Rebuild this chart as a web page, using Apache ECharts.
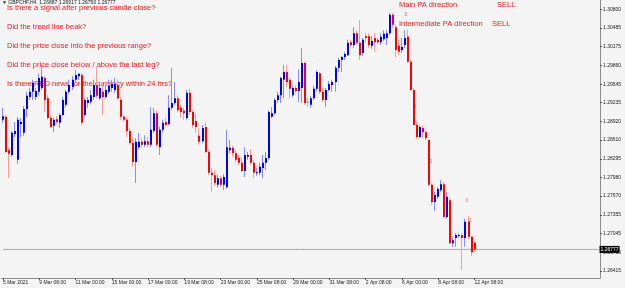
<!DOCTYPE html>
<html>
<head>
<meta charset="utf-8">
<script src="https://cdn.jsdelivr.net/npm/echarts@6/dist/echarts.min.js"></script>
<style>
html, body { margin: 0; padding: 0; background: #f4f4f4; }
#chart { width: 625px; height: 288px; }
</style>
</head>
<body>
<div id="chart"></div>
<script>
// GBPCHF H4, 5 Mar - 12 Apr 2021
var timeLabels = ['5 Mar 2021', '9 Mar 08:00', '11 Mar 00:00', '15 Mar 00:00', '17 Mar 00:00', '19 Mar 08:00',
    '23 Mar 00:00', '25 Mar 08:00', '29 Mar 00:00', '31 Mar 08:00', '2 Apr 08:00', '6 Apr 00:00', '8 Apr 08:00', '12 Apr 08:00'];
var priceTicks = [1.30800, 1.30485, 1.30175, 1.29860, 1.29545, 1.29235, 1.28920, 1.28610,
    1.28295, 1.27980, 1.27670, 1.27355, 1.27045, 1.26730, 1.26415];

var opens = [
    1.2895,1.2900,1.2844,1.2836,1.2871,1.2828,1.2888,1.2873,1.2913,1.2933,
    1.2942,1.2933,1.2942,1.2948,1.2965,1.2931,1.2898,1.2885,1.2896,1.2890,
    1.2903,1.2920,1.2942,1.2950,1.2962,1.2968,1.2970,1.2903,1.2923,1.2925,
    1.2933,1.2953,1.2931,1.2942,1.2933,1.2942,1.2948,1.2945,1.2953,1.2928,
    1.2900,1.2895,1.2876,1.2856,1.2824,1.2849,1.2858,1.2853,1.2859,1.2853,
    1.2876,1.2906,1.2849,1.2878,1.2891,1.2888,1.2915,1.2923,1.2931,1.2915,
    1.2910,1.2898,1.2940,1.2908,1.2893,1.2868,1.2859,1.2883,1.2841,1.2806,
    1.2802,1.2786,1.2797,1.2786,1.2782,1.2844,1.2848,1.2839,1.2831,1.2823,
    1.2809,1.2833,1.2836,1.2823,1.2806,1.2806,1.2814,1.2823,1.2831,1.2900,
    1.2906,1.2928,1.2936,1.2962,1.2975,1.2962,1.2936,1.2948,1.2943,1.2948,
    1.2990,1.2925,1.2920,1.2931,1.2947,1.2973,1.2942,1.2928,1.2945,1.2953,
    1.2958,1.2982,1.2995,1.3000,1.3003,1.3025,1.3020,1.3040,1.3024,1.3007,
    1.3035,1.3035,1.3019,1.3032,1.3029,1.3025,1.3030,1.3032,1.3040,1.3071,
    1.3050,1.3019,1.3012,1.3020,1.3034,1.2992,1.2945,1.2886,1.2866,1.2881,
    1.2874,1.2861,1.2786,1.2757,1.2766,1.2777,1.2787,1.2732,1.2760,1.2688,
    1.2697,1.2700,1.2702,1.2697,1.2724,1.2699,1.26887
];
var highs = [
    1.2915,1.2903,1.2848,1.2876,1.2891,1.2900,1.2898,1.2918,1.2942,1.2948,
    1.2962,1.2948,1.2972,1.2983,1.2968,1.2936,1.2901,1.2898,1.2901,1.2906,
    1.2933,1.2945,1.2962,1.2968,1.2978,1.2973,1.2973,1.2931,1.2933,1.2945,
    1.2962,1.2983,1.2953,1.2955,1.2953,1.2962,1.2962,1.2965,1.2962,1.2933,
    1.2903,1.2898,1.2881,1.2864,1.2864,1.2873,1.2864,1.2869,1.2866,1.2916,
    1.2915,1.2911,1.2883,1.2895,1.2898,1.2936,1.2982,1.2958,1.2936,1.2920,
    1.2915,1.2945,1.2947,1.2911,1.2906,1.2881,1.2886,1.2891,1.2844,1.2814,
    1.2811,1.2802,1.2801,1.2804,1.2878,1.2861,1.2851,1.2844,1.2836,1.2831,
    1.2849,1.2841,1.2846,1.2828,1.2814,1.2823,1.2836,1.2841,1.2911,1.2916,
    1.2931,1.2942,1.2967,1.2987,1.2987,1.2965,1.2952,1.2952,1.2980,1.3015,
    1.2992,1.2933,1.2935,1.2952,1.2978,1.2975,1.2948,1.2948,1.2960,1.2962,
    1.2985,1.2998,1.3002,1.3009,1.3029,1.3029,1.3050,1.3045,1.3062,1.3032,
    1.3040,1.3040,1.3035,1.3040,1.3032,1.3040,1.3045,1.3045,1.3074,1.3074,
    1.3054,1.3029,1.3032,1.3045,1.3045,1.2995,1.2948,1.2891,1.2886,1.2885,
    1.2878,1.2861,1.2789,1.2774,1.2782,1.2794,1.2791,1.2774,1.2764,1.2699,
    1.2705,1.2705,1.2705,1.2729,1.2734,1.2700,1.26917
];
var lows = [
    1.2890,1.2839,1.2797,1.2833,1.2866,1.2821,1.2866,1.2868,1.2900,1.2928,
    1.2928,1.2928,1.2936,1.2945,1.2908,1.2895,1.2881,1.2874,1.2888,1.2881,
    1.2901,1.2916,1.2938,1.2945,1.2958,1.2962,1.2886,1.2900,1.2915,1.2921,
    1.2928,1.2931,1.2928,1.2903,1.2930,1.2938,1.2942,1.2940,1.2928,1.2895,
    1.2891,1.2866,1.2853,1.2816,1.2789,1.2846,1.2848,1.2849,1.2849,1.2849,
    1.2873,1.2849,1.2836,1.2874,1.2883,1.2885,1.2911,1.2920,1.2908,1.2898,
    1.2895,1.2895,1.2903,1.2881,1.2873,1.2853,1.2856,1.2839,1.2802,1.2774,
    1.2784,1.2781,1.2782,1.2777,1.2779,1.2839,1.2833,1.2823,1.2819,1.2807,
    1.2799,1.2828,1.2819,1.2797,1.2801,1.2802,1.2797,1.2811,1.2828,1.2898,
    1.2903,1.2923,1.2923,1.2931,1.2950,1.2931,1.2933,1.2940,1.2925,1.2923,
    1.2920,1.2916,1.2915,1.2928,1.2943,1.2938,1.2925,1.2916,1.2942,1.2942,
    1.2942,1.2975,1.2975,1.2995,1.3002,1.3017,1.3015,1.3020,1.2995,1.3002,
    1.3025,1.3015,1.3014,1.3009,1.3022,1.3020,1.3027,1.3020,1.3037,1.3049,
    1.3000,1.3003,1.3007,1.3015,1.2990,1.2943,1.2885,1.2863,1.2864,1.2864,
    1.2861,1.2784,1.2752,1.2742,1.2762,1.2774,1.2730,1.2729,1.2687,1.2682,
    1.2682,1.2697,1.2643,1.2682,1.2695,1.2667,1.26750
];
var closes = [
    1.2901,1.2841,1.2838,1.2873,1.2876,1.2895,1.2891,1.2913,1.2935,1.2942,
    1.2957,1.2943,1.2965,1.2967,1.2928,1.2898,1.2883,1.2895,1.2891,1.2903,
    1.2928,1.2942,1.2953,1.2962,1.2970,1.2972,1.2890,1.2928,1.2928,1.2936,
    1.2953,1.2935,1.2948,1.2933,1.2945,1.2952,1.2955,1.2955,1.2931,1.2900,
    1.2895,1.2876,1.2856,1.2824,1.2858,1.2858,1.2853,1.2859,1.2853,1.2878,
    1.2906,1.2853,1.2878,1.2890,1.2886,1.2915,1.2923,1.2931,1.2911,1.2908,
    1.2906,1.2940,1.2908,1.2886,1.2883,1.2858,1.2881,1.2841,1.2806,1.2802,
    1.2789,1.2797,1.2786,1.2799,1.2849,1.2848,1.2839,1.2828,1.2823,1.2809,
    1.2836,1.2836,1.2823,1.2806,1.2807,1.2816,1.2823,1.2831,1.2908,1.2906,
    1.2928,1.2936,1.2965,1.2975,1.2958,1.2947,1.2948,1.2943,1.2958,1.2990,
    1.2923,1.2925,1.2931,1.2947,1.2975,1.2942,1.2928,1.2945,1.2955,1.2958,
    1.2982,1.2995,1.3000,1.3005,1.3024,1.3020,1.3040,1.3024,1.3003,1.3029,
    1.3032,1.3020,1.3027,1.3025,1.3025,1.3034,1.3039,1.3040,1.3071,1.3054,
    1.3012,1.3009,1.3017,1.3032,1.2992,1.2945,1.2886,1.2866,1.2883,1.2874,
    1.2864,1.2786,1.2757,1.2769,1.2779,1.2787,1.2732,1.2766,1.2688,1.2693,
    1.2702,1.2702,1.2697,1.2724,1.2699,1.2673,1.26777
];
var lastPrice = 1.26777;

var slotCount = 198;   // chart is shifted left, empty slots on the right
var categories = [];
for (var i = 0; i < slotCount; i++) {
    categories.push(String(i));
}
var candleData = opens.map(function (o, i) {
    return [i, o, closes[i], lows[i], highs[i]];
});
// bid line across the whole chart
var bidLine = [[0, lastPrice], [slotCount - 1, lastPrice]];

function showTimeLabel(idx) {
    return idx % 12 === 0 && idx / 12 < timeLabels.length;
}

function renderCandle(params, api) {
    var idx = api.value(0);
    var o = api.value(1), c = api.value(2), lo = api.value(3), hi = api.value(4);
    var top = api.coord([idx, hi]);
    var bot = api.coord([idx, lo]);
    var pO = api.coord([idx, o]);
    var pC = api.coord([idx, c]);
    var x = Math.round(top[0]);
    var body, wick;
    if (c === o) { body = '#22dd22'; wick = '#77ee77'; }
    else if (c > o) { body = '#0000ff'; wick = '#8a8aff'; }
    else { body = '#ff0000'; wick = '#ff9a9a'; }
    var y1 = Math.min(pO[1], pC[1]);
    var h = Math.max(Math.abs(pO[1] - pC[1]), 1);
    return {
        type: 'group',
        children: [
            { type: 'line', shape: { x1: x - 0.5, y1: top[1], x2: x - 0.5, y2: bot[1] }, style: { stroke: wick, lineWidth: 1 } },
            { type: 'rect', shape: { x: x - 1, y: y1, width: 2, height: h }, style: { fill: body } }
        ]
    };
}

var red = '#f01c1c';
var questions = [
    'Is there a signal after previous candle close?',
    'Did the trend line beak?',
    'Did the price close into the previous range?',
    'Did the price close below / above the last leg?',
    'Is there RED news for the currency within 24 hrs?'
];
var graphics = [
    { type: 'text', left: 2, top: 0, z: 5, style: { text: '\u25BC GBPCHF,H4  1.26887 1.26917 1.26750 1.26777', fontSize: 5, fill: '#222', fontFamily: 'Liberation Sans' } },
    { type: 'text', x: 399, y: 1, style: { text: 'Main PA direction', fontSize: 7.5, fill: red, fontFamily: 'Liberation Sans' } },
    { type: 'text', x: 497, y: 1, style: { text: 'SELL', fontSize: 7.5, fill: red, fontFamily: 'Liberation Sans' } },
    { type: 'text', x: 399, y: 20, style: { text: 'Intermediate PA direction', fontSize: 7.5, fill: red, fontFamily: 'Liberation Sans' } },
    { type: 'text', x: 492, y: 20, style: { text: 'SELL', fontSize: 7.5, fill: red, fontFamily: 'Liberation Sans' } }
];
questions.forEach(function (q, k) {
    graphics.push({ type: 'text', x: 7, y: 4 + k * 19, style: { text: q, fontSize: 7.5, fill: red, fontFamily: 'Liberation Sans' } });
});
// small fractal markers
[[406, 15], [415, 107], [431, 162], [467, 201], [470, 221]].forEach(function (p) {
    graphics.push({ type: 'text', x: p[0], y: p[1], style: { text: '0', fontSize: 5, fill: '#ff5a5a', align: 'center', verticalAlign: 'middle', fontFamily: 'Liberation Sans' } });
});

var chart = echarts.init(document.getElementById('chart'));
chart.setOption({
    backgroundColor: '#f4f4f4',
    animation: false,
    grid: { left: 0, right: 25, top: 0, bottom: 10 },
    graphic: graphics,
    xAxis: {
        type: 'category',
        data: categories,
        boundaryGap: true,
        axisLine: { show: true, lineStyle: { color: '#8c8c8c', width: 1 } },
        axisTick: { show: true, length: 2, alignWithLabel: true, interval: showTimeLabel, lineStyle: { color: '#555' } },
        axisLabel: {
            interval: showTimeLabel,
            formatter: function (v, idx) { return showTimeLabel(idx) ? timeLabels[idx / 12] : ''; },
            align: 'left',
            margin: 2,
            fontSize: 5,
            color: '#222',
            fontFamily: 'Liberation Sans'
        },
        splitLine: { show: false }
    },
    yAxis: {
        type: 'value',
        position: 'right',
        min: 1.26298,
        max: 1.30956,
        scale: true,
        axisLine: { show: true, lineStyle: { color: '#8c8c8c', width: 1 } },
        axisTick: { show: true, length: 2, customValues: priceTicks, lineStyle: { color: '#555' } },
        axisLabel: {
            customValues: priceTicks,
            formatter: function (v) { return v.toFixed(5); },
            margin: 3,
            fontSize: 5,
            color: '#222',
            fontFamily: 'Liberation Sans'
        },
        splitLine: { show: false }
    },
    series: [{
        type: 'line',
        data: bidLine,
        symbol: 'none',
        silent: true,
        z: 1,
        lineStyle: { color: '#a8a8a8', width: 1 },
        endLabel: {
            show: true,
            distance: 1,
            formatter: function () { return lastPrice.toFixed(5); },
            backgroundColor: '#000',
            color: '#fff',
            fontSize: 5,
            padding: [1, 1, 1, 1],
            fontFamily: 'Liberation Sans'
        }
    }, {
        type: 'custom',
        renderItem: renderCandle,
        data: candleData,
        encode: { x: 0, y: [1, 2, 3, 4] },
        clip: true,
        z: 3
    }]
});
</script>
</body>
</html>
